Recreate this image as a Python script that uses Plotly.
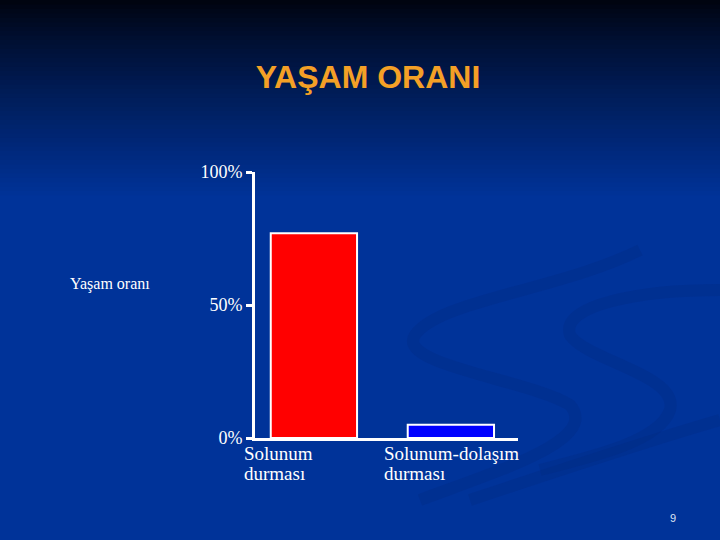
import plotly.graph_objects as go

# 데이터
categories = ["Solunum<br>durması", "Solunum-dolaşım<br>durması"]
values = [77, 5]
bar_colors = ["#FF0000", "#0000FF"]
tick_vals = [0, 50, 100]
tick_text = ["0%", "50%", "100%"]

W, H = 720, 540
L, R, T, B = 255, 202, 172, 102
PW, PH = W - L - R, H - T - B


def px(x, y):
    # 픽셀 좌표 -> 플롯 영역 paper 좌표
    return (x - L) / PW, (H - B - y) / PH


fig = go.Figure()
fig.add_trace(go.Bar(
    x=list(range(len(values))),
    y=values,
    width=0.63,
    marker=dict(color=bar_colors, line=dict(color="white", width=2)),
    hoverinfo="skip",
))

# 배경 그라데이션 (검정 -> 파랑)
shapes = [dict(type="rect", xref="paper", yref="paper", layer="below",
               x0=-2, x1=3, y0=-1, y1=3, line_width=0, fillcolor="rgb(0,51,153)")]
n = 45
top = (0, 4, 16)
bot = (0, 51, 153)
grad_h = 200
for i in range(n):
    f = i / (n - 1)
    c = tuple(int(top[k] + (bot[k] - top[k]) * f ** 0.85) for k in range(3))
    _, y1 = px(0, i * grad_h / n)
    _, y0 = px(0, (i + 1) * grad_h / n + 1)
    if i == 0:
        y1 += 1
    shapes.append(dict(type="rect", xref="paper", yref="paper", layer="below",
                       x0=-2, x1=3, y0=y0, y1=y1, line_width=0,
                       fillcolor="rgb(%d,%d,%d)" % c))

# 오른쪽 아래 장식 곡선
swoosh = [
    [(640, 250), (560, 290), (440, 300), (415, 335), (395, 365), (530, 380), (570, 405),
     (600, 440), (500, 470), (420, 500)],
    [(720, 290), (640, 290), (560, 305), (570, 335), (585, 360), (680, 375), (670, 410),
     (660, 440), (600, 455), (540, 470)],
    [(720, 420), (650, 440), (560, 470), (470, 500)],
]
for pts in swoosh:
    p = [px(*q) for q in pts]
    path = "M %f,%f" % p[0]
    for j in range(1, len(p) - 2, 3):
        path += " C %f,%f %f,%f %f,%f" % (*p[j], *p[j + 1], *p[j + 2])
    shapes.append(dict(type="path", xref="paper", yref="paper", layer="below",
                       path=path, line=dict(color="rgba(0,38,125,0.25)", width=12)))

annotations = []
shifts = [-72, -69]
for i, c in enumerate(categories):
    for k, line in enumerate(c.split("<br>")):
        annotations.append(dict(x=i, y=0, xref="x", yref="paper", text=line, showarrow=False,
                                xanchor="left", yanchor="top", align="left",
                                xshift=shifts[i], yshift=-3 - 20 * k,
                                font=dict(family="Liberation Serif", size=19, color="white")))
ax, ay = px(110, 284)
annotations.append(dict(x=ax, y=ay, xref="paper", yref="paper", text="Yaşam oranı", showarrow=False,
                        xanchor="center", yanchor="middle",
                        font=dict(family="Liberation Serif", size=16, color="white")))
nx, ny = px(673, 518)
annotations.append(dict(x=nx, y=ny, xref="paper", yref="paper", text="9", showarrow=False,
                        xanchor="center", yanchor="middle",
                        font=dict(family="Liberation Sans", size=11, color="#DDE4F4")))

fig.update_layout(
    width=W, height=H,
    margin=dict(l=L, r=R, t=T, b=B),
    paper_bgcolor="rgb(0,51,153)",
    plot_bgcolor="rgba(0,0,0,0)",
    showlegend=False,
    title=dict(text="<b>YAŞAM ORANI</b>", x=368 / W, xanchor="center", y=1 - 77 / H, yanchor="middle",
               font=dict(family="Liberation Sans", size=32, color="#F4A026")),
    shapes=shapes,
    annotations=annotations,
    xaxis=dict(range=[-0.43, 1.49], showgrid=False, zeroline=False, showticklabels=False,
               showline=True, linecolor="white", linewidth=3, ticks=""),
    yaxis=dict(range=[0, 100], tickvals=tick_vals, ticktext=tick_text, showgrid=False, zeroline=False,
               showline=True, linecolor="white", linewidth=3, ticks="outside", ticklen=6,
               tickwidth=3, tickcolor="white",
               tickfont=dict(family="Liberation Serif", size=18, color="white")),
)

fig.write_html("out.html", config={"displayModeBar": False},
               post_script="document.body.style.margin='0';")
